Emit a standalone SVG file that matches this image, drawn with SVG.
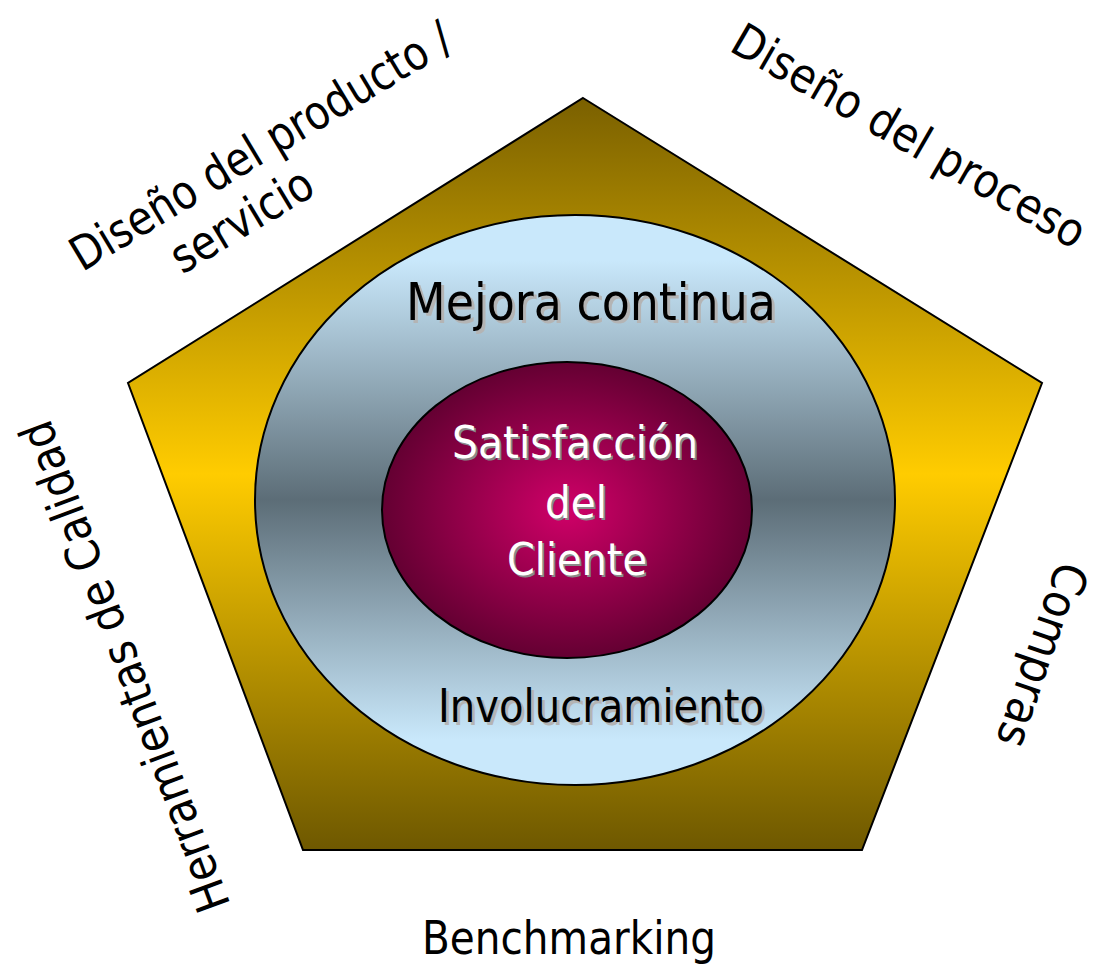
<svg xmlns="http://www.w3.org/2000/svg" width="1093" height="968" viewBox="0 0 1093 968">
  <defs>
    <linearGradient id="gPent" x1="0" y1="0" x2="0" y2="1">
      <stop offset="0" stop-color="#7a6000"/>
      <stop offset="0.5" stop-color="#ffcc00"/>
      <stop offset="1" stop-color="#6e5800"/>
    </linearGradient>
    <linearGradient id="gOuter" x1="0" y1="0" x2="0" y2="1">
      <stop offset="0.08" stop-color="#c9e8fb"/>
      <stop offset="0.5" stop-color="#5c6d77"/>
      <stop offset="0.92" stop-color="#c9e8fb"/>
    </linearGradient>
    <radialGradient id="gInner" cx="0.5" cy="0.5" r="0.5">
      <stop offset="0" stop-color="#d00068"/>
      <stop offset="1" stop-color="#640032"/>
    </radialGradient>
    <style>
      .shape { stroke: #000; stroke-width: 2; }
      .lbl { font-family: "DejaVu Sans", "Liberation Sans", sans-serif; font-size: 47px; fill: #000; text-anchor: middle; }
      .dark { font-family: "DejaVu Sans", "Liberation Sans", sans-serif; fill: #000; text-anchor: middle; }
      .darksh { font-family: "DejaVu Sans", "Liberation Sans", sans-serif; fill: #b4b4b4; text-anchor: middle; }
      .white { font-family: "DejaVu Sans", "Liberation Sans", sans-serif; font-size: 45px; fill: #fff; text-anchor: middle; }
      .whitesh { font-family: "DejaVu Sans", "Liberation Sans", sans-serif; font-size: 45px; fill: #8a8a8a; text-anchor: middle; }
    </style>
  </defs>

  <g id="pentagon">
    <polygon class="shape" points="583,98 1042,383 862,850 303,850 128,383" fill="url(#gPent)"/>
  </g>

  <g id="outer-ellipse">
    <ellipse class="shape" cx="575" cy="500" rx="320" ry="285" fill="url(#gOuter)"/>
    <text class="darksh" x="594" y="323" font-size="51" textLength="370" lengthAdjust="spacingAndGlyphs">Mejora continua</text>
    <text class="dark" x="591" y="320" font-size="51" textLength="370" lengthAdjust="spacingAndGlyphs">Mejora continua</text>
    <text class="darksh" x="604" y="725" font-size="47" textLength="326" lengthAdjust="spacingAndGlyphs">Involucramiento</text>
    <text class="dark" x="601" y="722" font-size="47" textLength="326" lengthAdjust="spacingAndGlyphs">Involucramiento</text>
  </g>

  <g id="inner-ellipse">
    <ellipse class="shape" cx="567" cy="510" rx="185" ry="148" fill="url(#gInner)"/>
    <text class="whitesh" x="577" y="460" textLength="246" lengthAdjust="spacingAndGlyphs">Satisfacción</text>
    <text class="white" x="575" y="458" textLength="246" lengthAdjust="spacingAndGlyphs">Satisfacción</text>
    <text class="whitesh" x="578" y="520" textLength="62" lengthAdjust="spacingAndGlyphs">del</text>
    <text class="white" x="576" y="518" textLength="62" lengthAdjust="spacingAndGlyphs">del</text>
    <text class="whitesh" x="579" y="577" textLength="140" lengthAdjust="spacingAndGlyphs">Cliente</text>
    <text class="white" x="577" y="575" textLength="140" lengthAdjust="spacingAndGlyphs">Cliente</text>
  </g>

  <g id="label-producto">
    <text class="lbl" transform="translate(269,160) rotate(-31)" textLength="436" lengthAdjust="spacingAndGlyphs">Diseño del producto /</text>
    <text class="lbl" transform="translate(250,234) rotate(-31)" textLength="158" lengthAdjust="spacingAndGlyphs">servicio</text>
  </g>

  <g id="label-proceso">
    <text class="lbl" transform="translate(901,150) rotate(30)" textLength="400" lengthAdjust="spacingAndGlyphs">Diseño del proceso</text>
  </g>

  <g id="label-compras">
    <text class="lbl" transform="translate(1027,650) rotate(109)" textLength="192" lengthAdjust="spacingAndGlyphs">Compras</text>
  </g>

  <g id="label-benchmarking">
    <text class="lbl" x="569" y="954" textLength="294" lengthAdjust="spacingAndGlyphs">Benchmarking</text>
  </g>

  <g id="label-herramientas">
    <text class="lbl" transform="translate(140,661) rotate(-110.4)" textLength="520" lengthAdjust="spacingAndGlyphs">Herramientas de Calidad</text>
  </g>

  <g id="connectors"></g>
</svg>
